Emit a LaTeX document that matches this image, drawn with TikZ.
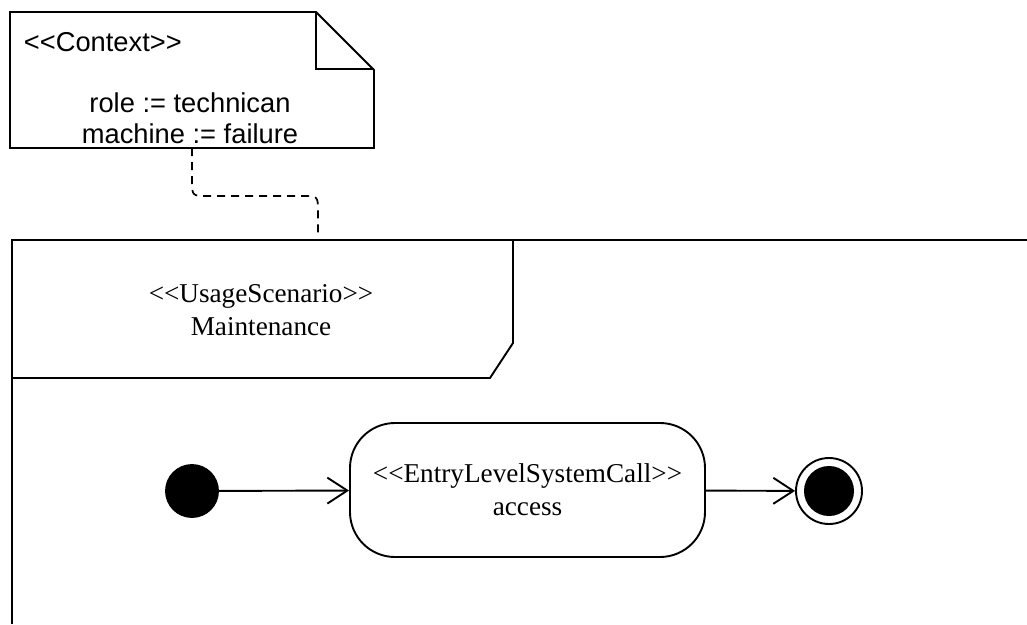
\documentclass[tikz,border=0pt]{standalone}
\usepackage{fontspec}
\setmainfont{Liberation Serif}
\newfontfamily\notefont{Liberation Sans}
\usetikzlibrary{arrows.meta,calc}
\begin{document}
\begin{tikzpicture}[x=1pt,y=-1pt,
  line width=1.9pt,
  every node/.style={font=\fontsize{27.2}{33}\selectfont},
  notetext/.style={font=\notefont\fontsize{27.3}{31}\selectfont, align=center, inner sep=0pt},
  serif/.style={align=center, inner sep=0pt},
  flow/.style={-{Straight Barb[length=20pt,width=26pt,line width=1.9pt]}},
  conn/.style={line width=1.7pt, dash pattern=on 8pt off 6pt}]
\useasboundingbox (0,0) rectangle (1027,624);
% note
\draw[fill=white] (10,12) -- (316,12) -- (374,70) -- (374,148) -- (10,148) -- cycle;
\draw (316,12) -- (316,69) -- (374,69);
\node[notetext, anchor=west] (ctx) at (23,42) {<{}<Context>{}>};
\node[notetext] (vals) at (190,118) {role := technican\\machine := failure};
\coordinate (noteB) at (192,148);
% frame
\draw (12,624) -- (12,240) -- (1027,240);
\draw (513,240) -- (513,343) -- (490,378) -- (12,378);
\coordinate (frameT) at (318,240);
\node[serif] (scen) at (261,310) {<{}<UsageScenario>{}>\\Maintenance};
% connector note -- frame
\draw[conn] (noteB) -- (192,180) .. controls (192,196) .. (208,196) -- (302,196) .. controls (318,196) .. (318,212) -- ($(frameT)+(0,-6)$);
% activity
\node[circle, fill=black, draw=black, minimum size=52pt, inner sep=0pt] (init) at (192,491) {};
\node[draw, rounded corners=45pt, minimum width=355pt, minimum height=134pt, align=center, fill=white] (call) at (527.5,490) {<{}<EntryLevelSystemCall>{}>\\access};
\node[circle, draw=black, minimum size=66pt, inner sep=0pt] (fin) at (829,491) {};
\node[circle, fill=black, minimum size=50pt, inner sep=0pt] (finin) at (fin) {};
\draw[flow] (init) -- (call);
\draw[flow] (call) -- (fin);
\end{tikzpicture}
\end{document}
